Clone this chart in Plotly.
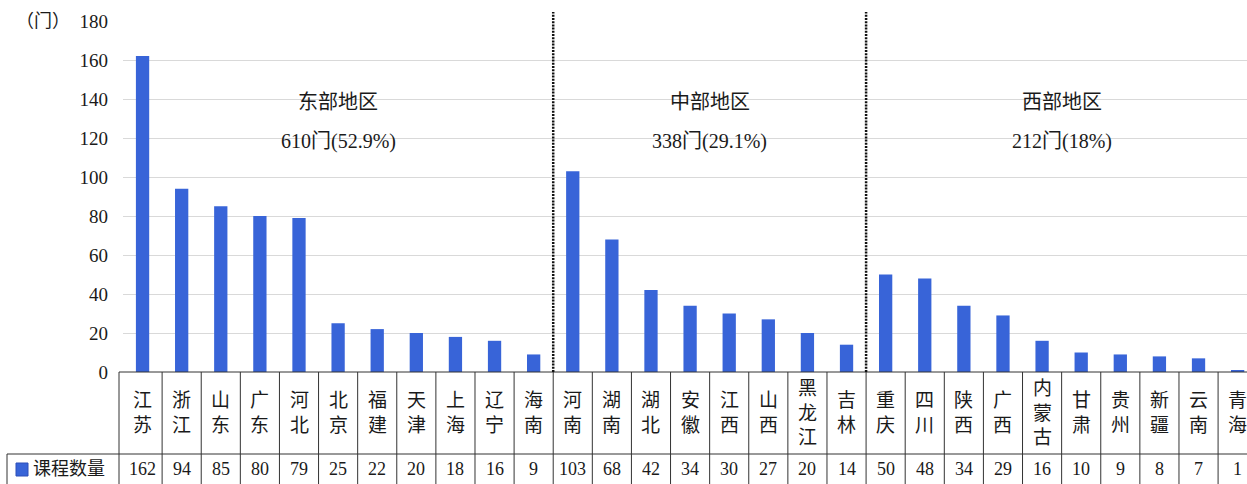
import plotly.graph_objects as go

provinces = ["江苏", "浙江", "山东", "广东", "河北", "北京", "福建", "天津", "上海", "辽宁", "海南",
             "河南", "湖南", "湖北", "安徽", "江西", "山西", "黑龙江", "吉林",
             "重庆", "四川", "陕西", "广西", "内蒙古", "甘肃", "贵州", "新疆", "云南", "青海"]
counts = [162, 94, 85, 80, 79, 25, 22, 20, 18, 16, 9,
          103, 68, 42, 34, 30, 27, 20, 14,
          50, 48, 34, 29, 16, 10, 9, 8, 7, 1]
series_name = "课程数量"
unit_label = "（门）"
regions = ["东部地区", "中部地区", "西部地区"]
region_totals = ["610门(52.9%)", "338门(29.1%)", "212门(18%)"]
region_sizes = [11, 8, 10]
y_ticks = [0, 20, 40, 60, 80, 100, 120, 140, 160, 180]

W, H = 1247, 484
L, T, B = 123, 21, 112
PW, PH = W - L, H - T - B
FONT = "Liberation Serif, Noto Sans CJK SC, serif"
TXT = "#1a1a1a"
BAR = "#3864d8"
n = len(provinces)
colw = 39.11
x_max = PW / colw - 0.5


def px_x(p):
    return (p - L) / PW


def px_y(p):
    return (T + PH - p) / PH


def note(x, y, text, xref="x", size=18, xanchor="center"):
    return dict(x=x, y=y, xref=xref, yref="paper", text=text, showarrow=False,
                xanchor=xanchor, yanchor="middle", font=dict(family=FONT, size=size, color=TXT))


x_idx = list(range(n))
fig = go.Figure()
fig.add_trace(go.Bar(x=x_idx, y=counts, width=0.34, marker=dict(color=BAR, line=dict(width=0)),
                     name=series_name, showlegend=False, hoverinfo="y"))

shapes = []
annotations = []
line_col = "#333333"
# table top border (at zero)
shapes.append(dict(type="line", xref="paper", yref="paper", x0=px_x(119), x1=1.02, y0=0, y1=0,
                   line=dict(color=line_col, width=1)))
# row separator
shapes.append(dict(type="line", xref="paper", yref="paper", x0=px_x(7), x1=1.02, y0=px_y(454), y1=px_y(454),
                   line=dict(color=line_col, width=1)))
# left borders
shapes.append(dict(type="line", xref="paper", yref="paper", x0=px_x(119), x1=px_x(119), y0=0, y1=px_y(486),
                   line=dict(color=line_col, width=1)))
shapes.append(dict(type="line", xref="paper", yref="paper", x0=px_x(7), x1=px_x(7), y0=px_y(454), y1=px_y(486),
                   line=dict(color=line_col, width=1)))
# column borders
for k in range(n - 1):
    shapes.append(dict(type="line", xref="x", yref="paper", x0=k + 0.5, x1=k + 0.5, y0=0, y1=px_y(486),
                       line=dict(color=line_col, width=1)))
# region separators and labels
start = 0
for i, sz in enumerate(region_sizes):
    end = start + sz
    if i < len(region_sizes) - 1:
        shapes.append(dict(type="line", xref="x", yref="paper", x0=end - 0.5, x1=end - 0.5,
                           y0=0, y1=px_y(12), line=dict(color="#111111", width=2.5, dash="2px,1.2px")))
    mid = (start + end - 1) / 2
    annotations.append(note(mid, px_y(102), regions[i], size=20))
    annotations.append(note(mid, px_y(141), region_totals[i], size=20))
    start = end

# category labels (vertical) and values
for k, (p, c) in enumerate(zip(provinces, counts)):
    annotations.append(note(k, px_y(413), "<br>".join(list(p)), size=19))
    annotations.append(note(k, px_y(469), str(c), size=18))

# legend cell
shapes.append(dict(type="rect", xref="paper", yref="paper", x0=px_x(16), x1=px_x(28), y0=px_y(476), y1=px_y(463),
                   fillcolor=BAR, line=dict(color="#2c4fb8", width=1)))
annotations.append(note(px_x(31), px_y(469), series_name, xref="paper", size=18, xanchor="left"))
# unit label
annotations.append(note(px_x(43), px_y(21), unit_label, xref="paper", size=18))

fig.update_layout(
    width=W, height=H,
    margin=dict(l=L, r=0, t=T, b=B, pad=0),
    paper_bgcolor="white", plot_bgcolor="white",
    font=dict(family=FONT, size=18, color=TXT),
    shapes=shapes, annotations=annotations,
    xaxis=dict(range=[-0.5, x_max], showticklabels=False, showgrid=False, zeroline=False,
               showline=False, ticks="", fixedrange=True),
    yaxis=dict(range=[0, 180], tickvals=y_ticks, showgrid=True, gridcolor="#d9d9d9", gridwidth=1,
               zeroline=False, showline=False, ticks="", ticklabelstandoff=14,
               tickfont=dict(family=FONT, size=19, color=TXT), fixedrange=True),
)

fig.write_html("out.html", config={"displayModeBar": False})
